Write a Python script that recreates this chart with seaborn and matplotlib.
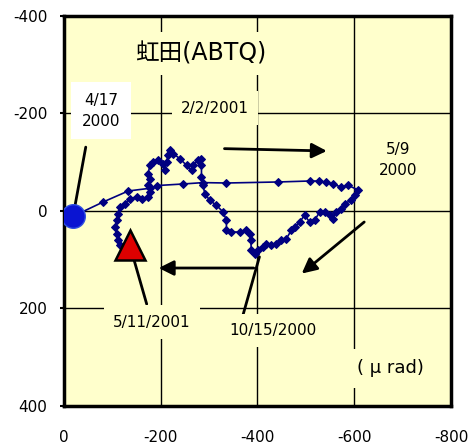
import numpy as np
import pandas as pd
import matplotlib
matplotlib.use("Agg")
import matplotlib.pyplot as plt
import seaborn as sns

# ---- tilt vector path (micro radian) ----
tilt_x = [-18.6, -81.1, -132.7, -177.5, -191.3, -246.2, -287.5, -335.8, -442.3, -507.7,
          -526.9, -542.2, -555.8, -573.2, -586.8, -607.4,
          -600.6, -593.8, -580.0, -573.2, -562.9, -555.8, -549.0, -538.7, -528.4, -518.1,
          -507.7, -497.4, -487.1, -476.8, -470.0, -459.7, -449.3, -439.0, -428.7, -418.4,
          -411.4, -401.1, -394.2, -387.4, -386.0, -383.9, -377.1, -363.3, -346.1, -335.8,
          -335.8, -328.8, -315.2, -301.3, -291.0, -287.5, -284.2, -284.2, -284.2, -277.2,
          -266.9, -263.6, -253.3, -239.4, -225.6, -218.8, -215.3, -212.0, -208.5, -205.0,
          -194.6, -184.3, -177.5, -174.0, -177.5, -174.0, -177.5, -174.0, -160.4, -150.1,
          -136.2, -125.9, -115.6, -112.1, -108.8, -105.3, -108.8, -112.1, -115.6]
tilt_y = [10.9, -18.5, -41.0, -46.6, -52.1, -55.4, -58.2, -57.4, -59.5, -61.5,
          -61.5, -58.9, -54.8, -49.2, -52.7, -43.5,
          -32.2, -21.9, -15.2, -4.9, 2.1, 15.6, 8.8, 2.1, 2.1, 19.1,
          22.6, 8.8, 22.6, 32.8, 39.6, 56.6, 60.1, 66.9, 70.3, 66.9,
          73.8, 80.6, 87.4, 80.6, 60.1, 46.4, 39.6, 43.1, 43.1, 39.6,
          19.1, 2.1, -11.7, -21.9, -35.7, -52.7, -69.7, -93.7, -107.5, -104.0,
          -93.7, -83.5, -93.7, -107.5, -117.7, -124.5, -114.2, -100.5, -83.5, -97.2,
          -104.0, -100.5, -93.7, -76.7, -66.5, -52.7, -39.0, -28.7, -25.4, -28.7,
          -25.4, -15.2, -8.2, 5.3, 19.1, 32.8, 46.4, 60.1, 70.3]

start_pt = (-19, 11)      # 4/17/2000
end_pt = (-136, 70)       # 5/11/2001

ticks = [0, -200, -400, -600, -800]
yticks = [-400, -200, 0, 200, 400]

# ---- style ----
sns.set_style("white")
plt.rcParams['font.family'] = ['DejaVu Sans', 'Noto Sans CJK JP']
plt.rcParams['text.color'] = 'black'
plt.rcParams['xtick.color'] = 'black'
plt.rcParams['ytick.color'] = 'black'

fig = plt.figure(figsize=(4.75, 4.48), dpi=100)
ax = fig.add_axes([0.1347, 0.0938, 0.8148, 0.8705])
ax.set_facecolor("#FFFFCC")

df = pd.DataFrame({"x": tilt_x, "y": tilt_y})
sns.lineplot(data=df, x="x", y="y", sort=False, estimator=None, color="#000080",
             lw=1.2, marker="D", markersize=3.6, markeredgecolor="#000080", ax=ax, zorder=3)

ax.plot([start_pt[0]], [start_pt[1]], marker="o", ms=17, color="#0A14D2",
        mec="#3050E0", mew=1, zorder=5)

# leader lines
lead = dict(color="black", lw=2, zorder=4)
ax.plot([-45, -23], [-131, -12], **lead)
ax.plot([end_pt[0], -171], [end_pt[1], 191], **lead)
ax.plot([-404, -369], [94, 217], **lead)

ax.plot([end_pt[0]], [end_pt[1]], marker="^", ms=21, color="#DD0000",
        mec="black", mew=1.8, zorder=6)

# arrows
arr = dict(arrowstyle="-|>,head_length=0.9,head_width=0.45", color="black", lw=2)
ax.annotate("", xy=(-549, -123), xytext=(-326, -128), arrowprops=arr)
ax.annotate("", xy=(-487, 132), xytext=(-625, 19), arrowprops=arr)
ax.annotate("", xy=(-190, 117), xytext=(-398, 117), arrowprops=arr)

# labels
ybox = dict(boxstyle="square,pad=0.6", fc="#FFFFCC", ec="none")
ax.text(-283, -323, "虹田(ABTQ)", fontsize=17, ha="center", va="center",
        bbox=dict(boxstyle="square,pad=0.4", fc="#FFFFCC", ec="none"), zorder=4)
ax.text(-76, -206, "4/17\n2000", fontsize=11, ha="center", va="center", linespacing=1.5,
        bbox=dict(boxstyle="square,pad=0.7", fc="white", ec="none"), zorder=4)
ax.text(-312, -211, "2/2/2001", fontsize=11, ha="center", va="center", bbox=ybox, zorder=4)
ax.text(-691, -104, "5/9\n2000", fontsize=11, ha="center", va="center", linespacing=1.5,
        bbox=ybox, zorder=4)
ax.text(-181, 228, "5/11/2001", fontsize=11, ha="center", va="center", bbox=ybox, zorder=4)
ax.text(-431, 245, "10/15/2000", fontsize=11, ha="center", va="center", bbox=ybox, zorder=4)
ax.text(-675, 323, "( μ rad)", fontsize=13, ha="center", va="center", bbox=ybox, zorder=4)

# axes
ax.set_xlim(0, -800)
ax.set_ylim(400, -400)
ax.set_xticks(ticks)
ax.set_yticks(yticks)
ax.set_xticklabels([str(t) for t in ticks], fontsize=11)
ax.set_yticklabels([str(t) for t in yticks], fontsize=11)
ax.set_xlabel("")
ax.set_ylabel("")
ax.grid(True, color="black", lw=1)
ax.set_axisbelow(True)
ax.tick_params(axis="x", length=0, pad=17)
ax.tick_params(axis="y", length=3, width=1.5, direction="out", pad=9, left=True)
for s in ax.spines.values():
    s.set_visible(True)
    s.set_color("black")
    s.set_linewidth(2.5)

fig.savefig("out.png", dpi=100, facecolor="white")
